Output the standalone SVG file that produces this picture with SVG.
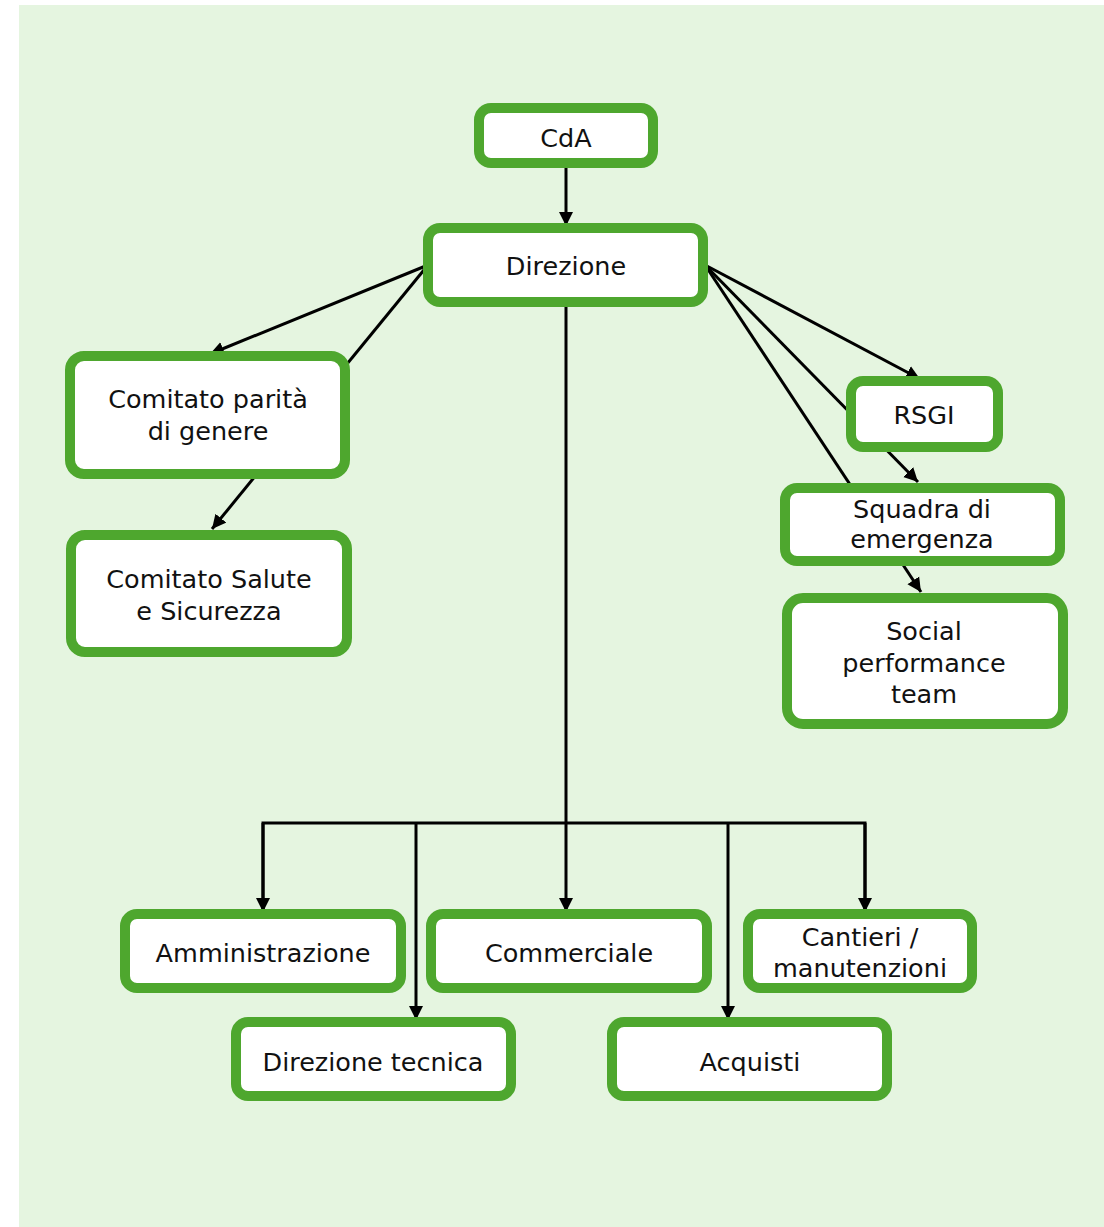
<svg xmlns="http://www.w3.org/2000/svg" width="1104" height="1227" viewBox="0 0 1104 1227">
<style>
.bg{fill:#e5f5e0}
.box{fill:#ffffff;stroke:#4ea72e;stroke-width:10}
.lbl{font-family:"DejaVu Sans","Liberation Sans",sans-serif;font-size:25.5px;fill:#111111;text-anchor:middle}
.con{fill:none;stroke:#000000;stroke-width:3;stroke-linejoin:miter}
.arr{marker-end:url(#ah)}
</style>
<defs>
<marker id="ah" markerUnits="userSpaceOnUse" markerWidth="15" markerHeight="15" refX="14" refY="7.5" orient="auto">
<path d="M0,0.5 L14,7.5 L0,14.5 z" fill="#000000"/>
</marker>
</defs>
<rect class="bg" x="19" y="5" width="1085" height="1222"/>
<g id="connectors">
<line class="con arr" x1="566" y1="165" x2="566" y2="226"/>
<line class="con arr" x1="428" y1="265" x2="210" y2="354"/>
<line class="con arr" x1="428" y1="265" x2="212" y2="529"/>
<line class="con arr" x1="705" y1="265" x2="920" y2="379"/>
<line class="con arr" x1="705" y1="265" x2="918" y2="482"/>
<line class="con arr" x1="705" y1="265" x2="921" y2="592"/>
<line class="con arr" x1="566" y1="302" x2="566" y2="912"/>
<polyline class="con" points="263,912 263,823 865,823 865,912"/>
<line class="con arr" x1="263" y1="823" x2="263" y2="912"/>
<line class="con arr" x1="865" y1="823" x2="865" y2="912"/>
<line class="con arr" x1="416" y1="823" x2="416" y2="1020"/>
<line class="con arr" x1="728" y1="823" x2="728" y2="1020"/>
</g>
<g id="node-cda">
<rect class="box" x="479" y="108" width="174" height="55" rx="12"/>
<text class="lbl" x="566" y="147">CdA</text>
</g>
<g id="node-direzione">
<rect class="box" x="428" y="228" width="275" height="74" rx="12"/>
<text class="lbl" x="566" y="275">Direzione</text>
</g>
<g id="node-comitato-parita">
<rect class="box" x="70" y="356" width="275" height="118" rx="14"/>
<text class="lbl" x="208" y="408">Comitato parità</text>
<text class="lbl" x="208" y="440">di genere</text>
</g>
<g id="node-comitato-salute">
<rect class="box" x="71" y="535" width="276" height="117" rx="14"/>
<text class="lbl" x="209" y="588">Comitato Salute</text>
<text class="lbl" x="209" y="620">e Sicurezza</text>
</g>
<g id="node-rsgi">
<rect class="box" x="851" y="381" width="147" height="66" rx="12"/>
<text class="lbl" x="924" y="424">RSGI</text>
</g>
<g id="node-squadra">
<rect class="box" x="785" y="488" width="275" height="73" rx="12"/>
<text class="lbl" x="922" y="518">Squadra di</text>
<text class="lbl" x="922" y="548">emergenza</text>
</g>
<g id="node-social">
<rect class="box" x="787" y="598" width="276" height="126" rx="16"/>
<text class="lbl" x="924" y="640">Social</text>
<text class="lbl" x="924" y="672">performance</text>
<text class="lbl" x="924" y="703">team</text>
</g>
<g id="node-amministrazione">
<rect class="box" x="125" y="914" width="276" height="74" rx="12"/>
<text class="lbl" x="263" y="962">Amministrazione</text>
</g>
<g id="node-commerciale">
<rect class="box" x="431" y="914" width="276" height="74" rx="12"/>
<text class="lbl" x="569" y="962">Commerciale</text>
</g>
<g id="node-cantieri">
<rect class="box" x="748" y="914" width="224" height="74" rx="12"/>
<text class="lbl" x="860" y="946">Cantieri /</text>
<text class="lbl" x="860" y="977">manutenzioni</text>
</g>
<g id="node-direzione-tecnica">
<rect class="box" x="236" y="1022" width="275" height="74" rx="12"/>
<text class="lbl" x="373" y="1071">Direzione tecnica</text>
</g>
<g id="node-acquisti">
<rect class="box" x="612" y="1022" width="275" height="74" rx="12"/>
<text class="lbl" x="750" y="1071">Acquisti</text>
</g>
</svg>
